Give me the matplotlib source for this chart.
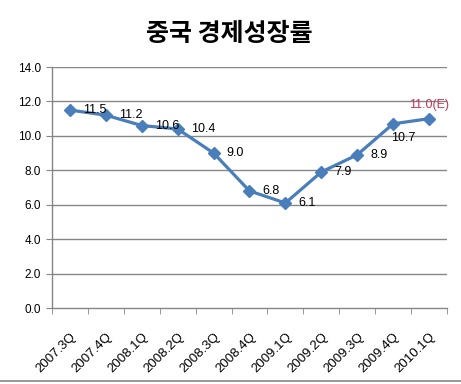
import matplotlib.pyplot as plt
import numpy as np
from matplotlib.lines import Line2D

plt.rcParams['font.family'] = ['Liberation Sans', 'DejaVu Sans']

quarters = ['2007.3Q', '2007.4Q', '2008.1Q', '2008.2Q', '2008.3Q', '2008.4Q',
            '2009.1Q', '2009.2Q', '2009.3Q', '2009.4Q', '2010.1Q']
growth = [11.5, 11.2, 10.6, 10.4, 9.0, 6.8, 6.1, 7.9, 8.9, 10.7, 11.0]
labels = ['11.5', '11.2', '10.6', '10.4', '9.0', '6.8', '6.1', '7.9', '8.9', '10.7', '11.0(E)']
yticks = [0.0, 2.0, 4.0, 6.0, 8.0, 10.0, 12.0, 14.0]

fig = plt.figure(figsize=(4.61, 3.84), dpi=100)
ax = fig.add_axes([0.1128, 0.1979, 0.9696 - 0.1128, 0.8255 - 0.1979])

x = np.arange(len(quarters))
for yv in yticks[1:]:
    ax.axhline(yv, color='#868686', lw=1.0, zorder=1)

ax.plot(x, growth, color='#4A7EBB', lw=2.3, marker='D', markersize=6,
        markerfacecolor='#4A7EBB', markeredgecolor='#4A7EBB', zorder=3)

# data labels
for i, (v, s) in enumerate(zip(growth, labels)):
    if i == len(growth) - 1:
        ax.annotate(s, (i, v), xytext=(0, 9.5), textcoords='offset points',
                    ha='center', va='center', fontsize=9, color='#C0385A')
    elif i == len(growth) - 2:
        ax.annotate(s, (i, v), xytext=(7, -10), textcoords='offset points',
                    ha='center', va='center', fontsize=9, color='black')
    else:
        ax.annotate(s, (i, v), xytext=(9.5, 0), textcoords='offset points',
                    ha='left', va='center', fontsize=9, color='black')

ax.set_xlim(-0.5, len(quarters) - 0.5)
ax.set_ylim(0, 14)
ax.set_yticks(yticks)
ax.set_yticklabels(['%.1f' % t for t in yticks], fontsize=8.5)
ax.set_xticks(x)
ax.set_xticklabels(quarters, rotation=45, ha='right', rotation_mode='anchor', fontsize=9.5)
ax.set_xticks(np.arange(len(quarters) + 1) - 0.5, minor=True)
ax.tick_params(axis='x', which='major', length=0, pad=16)
ax.tick_params(axis='x', which='minor', length=4, color='#868686', direction='out')
ax.tick_params(axis='y', length=4, color='#868686', direction='out', pad=4)

for sp in ['top', 'right']:
    ax.spines[sp].set_visible(False)
for sp in ['left', 'bottom']:
    ax.spines[sp].set_color('#868686')
    ax.spines[sp].set_linewidth(1.0)

fig.text(0.497, 0.912, '중국 경제성장률', ha='center', va='center', fontsize=18,
         fontweight='bold', family=['Noto Sans CJK KR', 'DejaVu Sans'])

fig.add_artist(Line2D([0, 1], [0.008, 0.008], color='#868686', lw=1.2,
                      transform=fig.transFigure))

fig.savefig('out.png', dpi=100)
